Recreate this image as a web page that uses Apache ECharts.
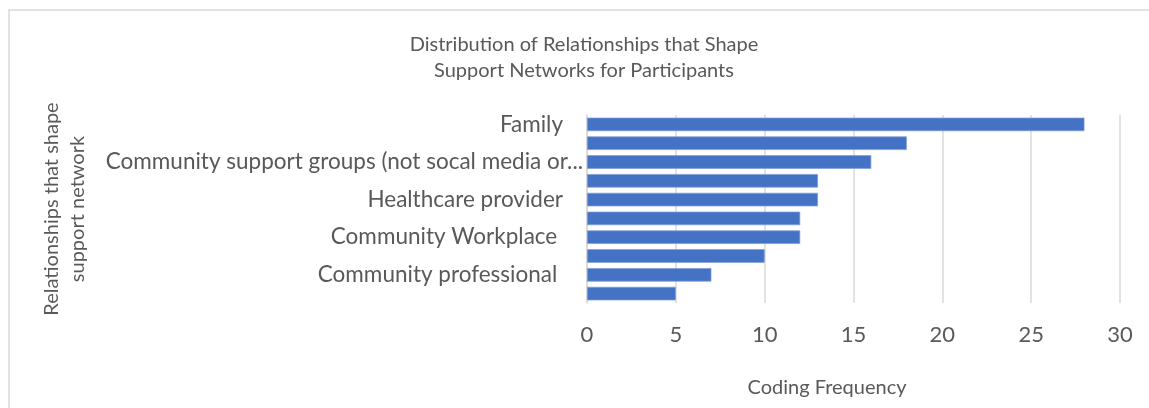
<!DOCTYPE html>
<html>
<head>
<meta charset="utf-8">
<script src="https://cdn.jsdelivr.net/npm/echarts@6/dist/echarts.min.js"></script>
<style>
html,body{margin:0;padding:0;background:#fff;}
#chart{width:1149px;height:408px;}
</style>
</head>
<body>
<div id="chart"></div>
<script>
// Categories top to bottom; only every other label is visible in the reference
var categories = [
  'Family',
  'Category 2 (label not shown)',
  'Community support groups (not socal media or...',
  'Category 4 (label not shown)',
  'Healthcare provider',
  'Category 6 (label not shown)',
  'Community Workplace ',
  'Category 8 (label not shown)',
  'Community professional ',
  'Category 10 (label not shown)'
];
var values = [28, 18, 16, 13, 13, 12, 12, 10, 7, 5];
var xTicks = [0, 5, 10, 15, 20, 25, 30];

var FONT = 'Lato';
var GRAY = '#595959';
var LABEL_SIZE = 22.5;

var chart = echarts.init(document.getElementById('chart'), null, {renderer: 'canvas'});
chart.setOption({
  backgroundColor: '#ffffff',
  animation: false,
  title: {
    text: 'Distribution of Relationships that Shape\nSupport Networks for Participants',
    left: 584,
    top: 32,
    textAlign: 'center',
    padding: 0,
    textStyle: {
      fontFamily: FONT,
      fontSize: 20,
      fontWeight: 'normal',
      color: GRAY,
      lineHeight: 26
    }
  },
  graphic: [{
    type: 'rect',
    shape: {x: 9, y: 10, width: 1160, height: 420},
    style: {fill: 'none', stroke: '#d9d9d9', lineWidth: 1.5},
    silent: true,
    z: -10
  }],
  grid: {left: 587, right: 29, top: 115, height: 188, containLabel: false},
  xAxis: {
    type: 'value',
    min: xTicks[0],
    max: xTicks[xTicks.length - 1],
    interval: xTicks[1] - xTicks[0],
    name: 'Coding Frequency',
    nameLocation: 'middle',
    nameGap: 75,
    nameTextStyle: {fontFamily: FONT, fontSize: 20, color: GRAY, padding: [0, 53, 0, 0]},
    axisLine: {show: false},
    axisTick: {show: false},
    axisLabel: {fontFamily: FONT, fontSize: 22, color: GRAY, margin: 21},
    splitLine: {show: true, lineStyle: {color: '#d9d9d9', width: 1.5}}
  },
  yAxis: {
    type: 'category',
    data: categories,
    inverse: true,
    name: 'Relationships that shape\nsupport network',
    nameLocation: 'middle',
    nameRotate: 90,
    nameGap: 496,
    nameTextStyle: {fontFamily: FONT, fontSize: 20, color: GRAY, lineHeight: 26},
    axisLine: {show: true, lineStyle: {color: '#d9d9d9', width: 1.5}},
    axisTick: {show: false},
    axisLabel: {
      interval: 1,
      margin: 4,
      fontFamily: FONT,
      fontSize: LABEL_SIZE,
      color: GRAY,
      formatter: function (value, index) {
        return (index === 2 ? '{t|' : '{n|') + value + '}';
      },
      rich: {
        n: {fontFamily: FONT, fontSize: LABEL_SIZE, color: GRAY, padding: [0, 20, 0, 0]},
        t: {fontFamily: FONT, fontSize: LABEL_SIZE, color: GRAY}
      }
    }
  },
  series: [{
    type: 'bar',
    data: values,
    barCategoryGap: '28%',
    itemStyle: {color: '#4472C4', borderColor: '#7f9dd8', borderWidth: 0.75}
  }]
});
</script>
</body>
</html>
